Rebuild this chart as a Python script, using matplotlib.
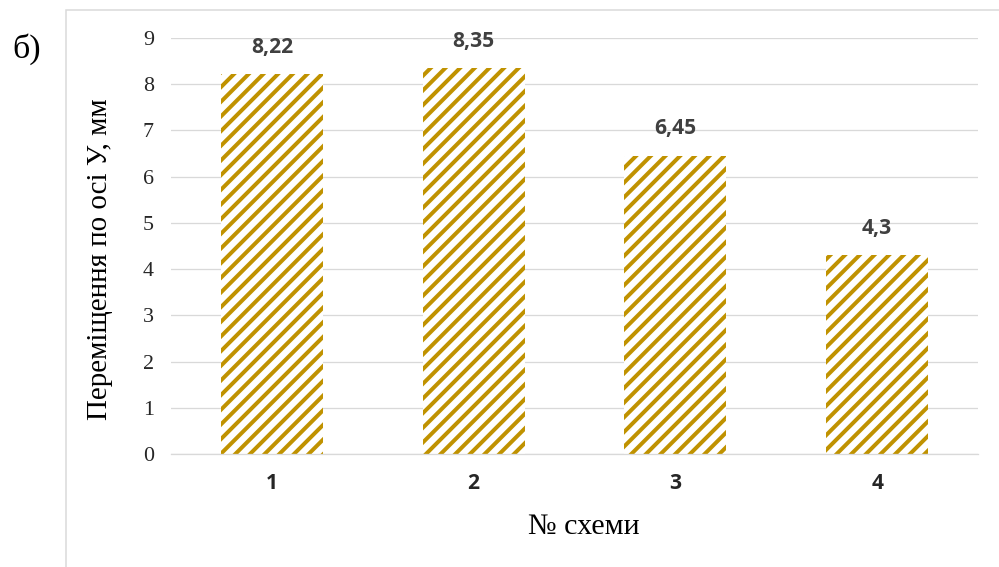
import matplotlib.pyplot as plt
from matplotlib.patches import Rectangle

schemes = ["1", "2", "3", "4"]
values = [8.22, 8.35, 6.45, 4.3]
value_labels = ["8,22", "8,35", "6,45", "4,3"]
yticks = list(range(0, 10))

DPI = 88
def px(v):
    # pixel size -> points at this dpi
    return v * 72.0 / DPI

plt.rcParams['hatch.linewidth'] = px(4.0)
plt.rcParams['hatch.color'] = '#C09200'

fig = plt.figure(figsize=(999 / DPI, 567 / DPI), dpi=DPI)

# light chart frame
fig.patches.append(Rectangle((66 / 999, -0.1), 1.2, 1 - 10 / 567 + 0.1,
                             transform=fig.transFigure, fill=False,
                             edgecolor='#D9D9D9', linewidth=px(1.5)))

ax = fig.add_axes([171 / 999, 113 / 567, 807 / 999, 416 / 567])
x = range(len(schemes))
ax.bar(x, values, width=0.505, color='white', hatch='//',
       edgecolor='#C09200', linewidth=0)

for i, (v, lab) in enumerate(zip(values, value_labels)):
    ax.annotate(lab, (i, v), xytext=(0, px(27)), textcoords='offset points',
                ha='center', va='center', fontsize=px(21), fontweight='bold',
                color='#404040', family='Open Sans')

ax.set_xlim(-0.5, 3.5)
ax.set_ylim(0, 9)
ax.set_yticks(yticks)
ax.set_yticklabels([str(t) for t in yticks], family='Liberation Serif',
                   fontsize=px(22), color='#262626')
ax.set_xticks(list(x))
ax.set_xticklabels(schemes, family='Open Sans', fontweight='bold',
                   fontsize=px(21), color='#262626')
ax.tick_params(axis='y', length=0, pad=px(17))
ax.tick_params(axis='x', length=0, pad=px(19))
ax.grid(axis='y', color='#D9D9D9', linewidth=px(1.3))
ax.set_axisbelow(True)
for s in ['top', 'right', 'left']:
    ax.spines[s].set_visible(False)
ax.spines['bottom'].set_color('#D9D9D9')
ax.spines['bottom'].set_linewidth(px(1.3))

fig.text(584 / 999, 1 - 527 / 567, "№ схеми", family='Liberation Serif',
         fontsize=px(30), ha='center', va='center')
fig.text(100 / 999, 1 - 259 / 567, "Переміщення по осі У, мм",
         family='Liberation Serif', fontsize=px(29), rotation=90,
         ha='center', va='center')
fig.text(27 / 999, 1 - 49 / 567, "б)", family='Liberation Serif',
         fontsize=px(34), ha='center', va='center')

fig.savefig('out.png', dpi=DPI)
